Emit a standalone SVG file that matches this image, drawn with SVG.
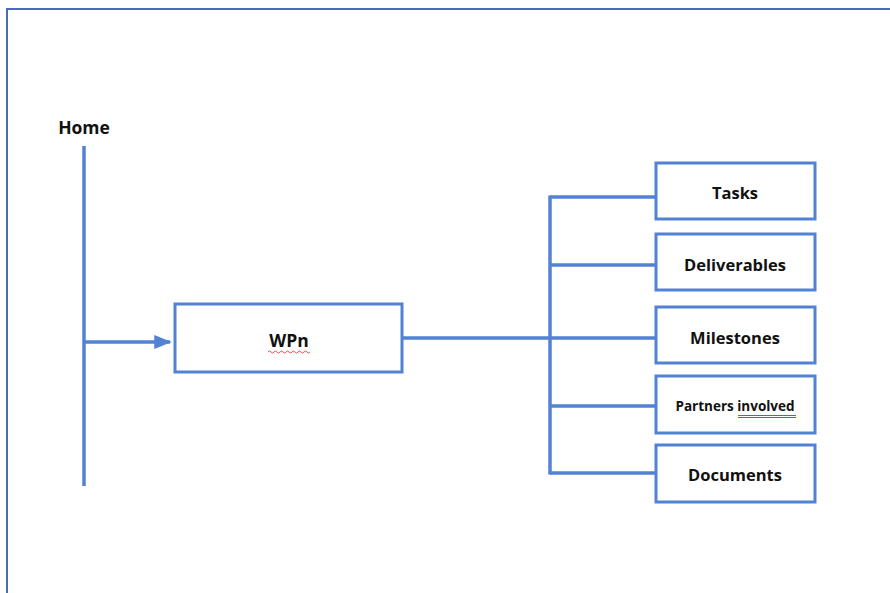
<svg xmlns="http://www.w3.org/2000/svg" width="890" height="593" viewBox="0 0 890 593">
<defs>
<style>
.frame{fill:none;stroke:#4a6cb8;stroke-width:2}
.box{fill:#fff;stroke:#5282d4;stroke-width:3}
.ln{fill:none;stroke:#5282d4;stroke-width:3.5}
.t{font-family:"Open Sans","Liberation Sans",sans-serif;font-weight:bold;font-size:16.5px;fill:#111;text-anchor:middle;dominant-baseline:central}
.s{font-size:13.5px}
</style>
<marker id="ah" markerWidth="5" markerHeight="4" refX="4.5" refY="2" orient="auto" markerUnits="strokeWidth">
<path d="M0,0 L5,2 L0,4 Z" fill="#5282d4"/>
</marker>
</defs>
<rect width="890" height="593" fill="#fff"/>
<path class="frame" d="M7,600 L7,9 L900,9"/>
<g id="home">
<text class="t" x="84" y="127" style="font-size:17.5px">Home</text>
</g>
<g id="connectors">
<line class="ln" x1="84" y1="146" x2="84" y2="486"/>
<line class="ln" x1="84" y1="342" x2="170" y2="342" marker-end="url(#ah)"/>
<line class="ln" x1="402" y1="338" x2="655" y2="338"/>
<line class="ln" x1="550" y1="195.5" x2="550" y2="474.5"/>
<line class="ln" x1="550" y1="197" x2="655" y2="197"/>
<line class="ln" x1="550" y1="265" x2="655" y2="265"/>
<line class="ln" x1="550" y1="406" x2="655" y2="406"/>
<line class="ln" x1="550" y1="473" x2="655" y2="473"/>
</g>
<g id="wpn">
<rect class="box" x="175" y="304" width="227" height="68"/>
<text class="t" x="289" y="340" style="font-size:17.5px">WPn</text>
<path d="M268,352 q1.5,-2 3,0 t3,0 t3,0 t3,0 t3,0 t3,0 t3,0 t3,0 t3,0 t3,0 t3,0 t3,0 t3,0 t3,0" fill="none" stroke="#e05050" stroke-width="1"/>
</g>
<g id="tasks">
<rect class="box" x="656" y="163" width="159" height="56"/>
<text class="t" x="735" y="192">Tasks</text>
</g>
<g id="deliverables">
<rect class="box" x="656" y="234" width="159" height="56"/>
<text class="t" x="735" y="264">Deliverables</text>
</g>
<g id="milestones">
<rect class="box" x="656" y="307" width="159" height="56"/>
<text class="t" x="735" y="337">Milestones</text>
</g>
<g id="partners">
<rect class="box" x="656" y="376" width="159" height="57"/>
<text class="t s" x="735" y="406">Partners involved</text>
<line x1="738" y1="415.5" x2="796" y2="415.5" stroke="#4a6cb8" stroke-width="1"/>
<line x1="738" y1="417.5" x2="796" y2="417.5" stroke="#4a6cb8" stroke-width="1"/>
</g>
<g id="documents">
<rect class="box" x="656" y="445" width="159" height="57"/>
<text class="t" x="735" y="474">Documents</text>
</g>
</svg>
